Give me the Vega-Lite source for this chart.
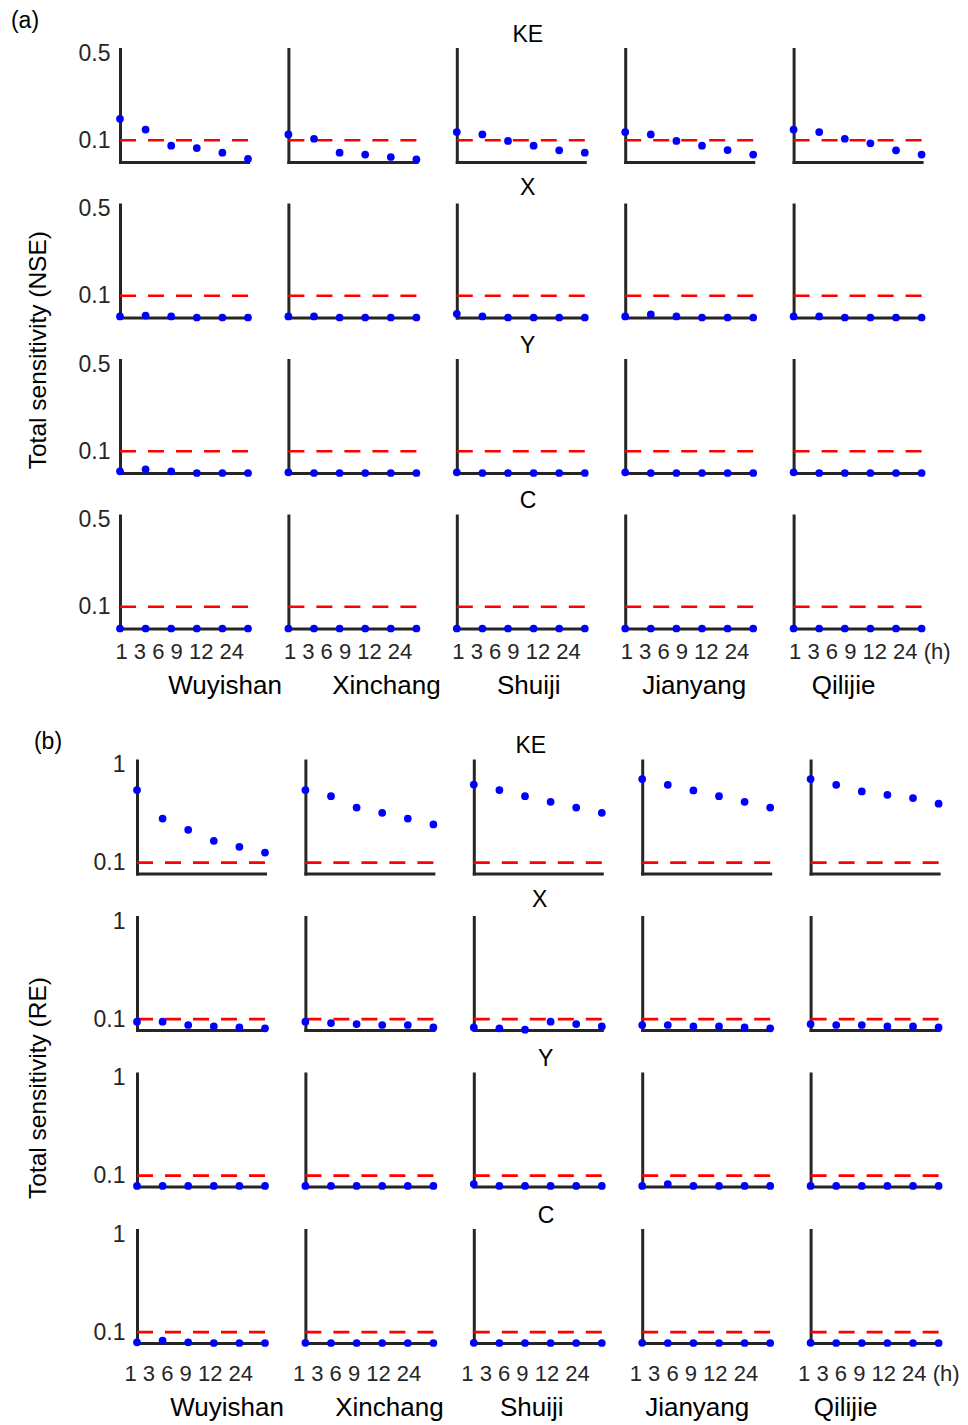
{
"$schema":"https://vega.github.io/schema/vega-lite/v6.json",
"padding":{"left":10,"top":9,"right":5,"bottom":5},
"background":"white",
"config":{
"view":{"stroke":null},
"font":"Liberation Sans",
"axis":{"domainColor":"#262626","domainWidth":3,"domainCap":"square","ticks":false,"tickSize":0,"grid":false,"labelFont":"Liberation Sans","labelFontSize":23,"labelColor":"#262626","titleFont":"Liberation Sans","titleFontSize":22,"titleColor":"#262626","titleFontWeight":"normal"},
"axisX":{"labels":false},
"title":{"font":"Liberation Sans","fontSize":23,"fontWeight":"normal","color":"#000000"}
},
"title":{"text":"(a)","anchor":"start","dx":-15,"offset":-9},
"data":{"values":[
{"p":"NSE","v":"KE","s":"Wuyishan","h":"1","val":0.199},{"p":"NSE","v":"KE","s":"Wuyishan","h":"3","val":0.149},{"p":"NSE","v":"KE","s":"Wuyishan","h":"6","val":0.075},{"p":"NSE","v":"KE","s":"Wuyishan","h":"9","val":0.064},{"p":"NSE","v":"KE","s":"Wuyishan","h":"12","val":0.043},{"p":"NSE","v":"KE","s":"Wuyishan","h":"24","val":0.014},
{"p":"NSE","v":"KE","s":"Xinchang","h":"1","val":0.127},{"p":"NSE","v":"KE","s":"Xinchang","h":"3","val":0.107},{"p":"NSE","v":"KE","s":"Xinchang","h":"6","val":0.043},{"p":"NSE","v":"KE","s":"Xinchang","h":"9","val":0.034},{"p":"NSE","v":"KE","s":"Xinchang","h":"12","val":0.023},{"p":"NSE","v":"KE","s":"Xinchang","h":"24","val":0.012},
{"p":"NSE","v":"KE","s":"Shuiji","h":"1","val":0.138},{"p":"NSE","v":"KE","s":"Shuiji","h":"3","val":0.127},{"p":"NSE","v":"KE","s":"Shuiji","h":"6","val":0.097},{"p":"NSE","v":"KE","s":"Shuiji","h":"9","val":0.075},{"p":"NSE","v":"KE","s":"Shuiji","h":"12","val":0.054},{"p":"NSE","v":"KE","s":"Shuiji","h":"24","val":0.043},
{"p":"NSE","v":"KE","s":"Jianyang","h":"1","val":0.138},{"p":"NSE","v":"KE","s":"Jianyang","h":"3","val":0.127},{"p":"NSE","v":"KE","s":"Jianyang","h":"6","val":0.097},{"p":"NSE","v":"KE","s":"Jianyang","h":"9","val":0.075},{"p":"NSE","v":"KE","s":"Jianyang","h":"12","val":0.055},{"p":"NSE","v":"KE","s":"Jianyang","h":"24","val":0.034},
{"p":"NSE","v":"KE","s":"Qilijie","h":"1","val":0.149},{"p":"NSE","v":"KE","s":"Qilijie","h":"3","val":0.138},{"p":"NSE","v":"KE","s":"Qilijie","h":"6","val":0.107},{"p":"NSE","v":"KE","s":"Qilijie","h":"9","val":0.086},{"p":"NSE","v":"KE","s":"Qilijie","h":"12","val":0.054},{"p":"NSE","v":"KE","s":"Qilijie","h":"24","val":0.034},
{"p":"NSE","v":"X","s":"Wuyishan","h":"1","val":0.005},{"p":"NSE","v":"X","s":"Wuyishan","h":"3","val":0.009},{"p":"NSE","v":"X","s":"Wuyishan","h":"6","val":0.005},{"p":"NSE","v":"X","s":"Wuyishan","h":"9","val":0},{"p":"NSE","v":"X","s":"Wuyishan","h":"12","val":0},{"p":"NSE","v":"X","s":"Wuyishan","h":"24","val":0},
{"p":"NSE","v":"X","s":"Xinchang","h":"1","val":0.005},{"p":"NSE","v":"X","s":"Xinchang","h":"3","val":0.005},{"p":"NSE","v":"X","s":"Xinchang","h":"6","val":0},{"p":"NSE","v":"X","s":"Xinchang","h":"9","val":0},{"p":"NSE","v":"X","s":"Xinchang","h":"12","val":0},{"p":"NSE","v":"X","s":"Xinchang","h":"24","val":0},
{"p":"NSE","v":"X","s":"Shuiji","h":"1","val":0.017},{"p":"NSE","v":"X","s":"Shuiji","h":"3","val":0.005},{"p":"NSE","v":"X","s":"Shuiji","h":"6","val":0},{"p":"NSE","v":"X","s":"Shuiji","h":"9","val":0},{"p":"NSE","v":"X","s":"Shuiji","h":"12","val":0},{"p":"NSE","v":"X","s":"Shuiji","h":"24","val":0},
{"p":"NSE","v":"X","s":"Jianyang","h":"1","val":0.005},{"p":"NSE","v":"X","s":"Jianyang","h":"3","val":0.014},{"p":"NSE","v":"X","s":"Jianyang","h":"6","val":0.005},{"p":"NSE","v":"X","s":"Jianyang","h":"9","val":0},{"p":"NSE","v":"X","s":"Jianyang","h":"12","val":0},{"p":"NSE","v":"X","s":"Jianyang","h":"24","val":0},
{"p":"NSE","v":"X","s":"Qilijie","h":"1","val":0.005},{"p":"NSE","v":"X","s":"Qilijie","h":"3","val":0.005},{"p":"NSE","v":"X","s":"Qilijie","h":"6","val":0},{"p":"NSE","v":"X","s":"Qilijie","h":"9","val":0},{"p":"NSE","v":"X","s":"Qilijie","h":"12","val":0},{"p":"NSE","v":"X","s":"Qilijie","h":"24","val":0},
{"p":"NSE","v":"Y","s":"Wuyishan","h":"1","val":0.008},{"p":"NSE","v":"Y","s":"Wuyishan","h":"3","val":0.017},{"p":"NSE","v":"Y","s":"Wuyishan","h":"6","val":0.008},{"p":"NSE","v":"Y","s":"Wuyishan","h":"9","val":0},{"p":"NSE","v":"Y","s":"Wuyishan","h":"12","val":0},{"p":"NSE","v":"Y","s":"Wuyishan","h":"24","val":0},
{"p":"NSE","v":"Y","s":"Xinchang","h":"1","val":0.003},{"p":"NSE","v":"Y","s":"Xinchang","h":"3","val":0},{"p":"NSE","v":"Y","s":"Xinchang","h":"6","val":0},{"p":"NSE","v":"Y","s":"Xinchang","h":"9","val":0},{"p":"NSE","v":"Y","s":"Xinchang","h":"12","val":0},{"p":"NSE","v":"Y","s":"Xinchang","h":"24","val":0},
{"p":"NSE","v":"Y","s":"Shuiji","h":"1","val":0.003},{"p":"NSE","v":"Y","s":"Shuiji","h":"3","val":0},{"p":"NSE","v":"Y","s":"Shuiji","h":"6","val":0},{"p":"NSE","v":"Y","s":"Shuiji","h":"9","val":0},{"p":"NSE","v":"Y","s":"Shuiji","h":"12","val":0},{"p":"NSE","v":"Y","s":"Shuiji","h":"24","val":0},
{"p":"NSE","v":"Y","s":"Jianyang","h":"1","val":0.003},{"p":"NSE","v":"Y","s":"Jianyang","h":"3","val":0},{"p":"NSE","v":"Y","s":"Jianyang","h":"6","val":0},{"p":"NSE","v":"Y","s":"Jianyang","h":"9","val":0},{"p":"NSE","v":"Y","s":"Jianyang","h":"12","val":0},{"p":"NSE","v":"Y","s":"Jianyang","h":"24","val":0},
{"p":"NSE","v":"Y","s":"Qilijie","h":"1","val":0.003},{"p":"NSE","v":"Y","s":"Qilijie","h":"3","val":0},{"p":"NSE","v":"Y","s":"Qilijie","h":"6","val":0},{"p":"NSE","v":"Y","s":"Qilijie","h":"9","val":0},{"p":"NSE","v":"Y","s":"Qilijie","h":"12","val":0},{"p":"NSE","v":"Y","s":"Qilijie","h":"24","val":0},
{"p":"NSE","v":"C","s":"Wuyishan","h":"1","val":0},{"p":"NSE","v":"C","s":"Wuyishan","h":"3","val":0},{"p":"NSE","v":"C","s":"Wuyishan","h":"6","val":0},{"p":"NSE","v":"C","s":"Wuyishan","h":"9","val":0},{"p":"NSE","v":"C","s":"Wuyishan","h":"12","val":0},{"p":"NSE","v":"C","s":"Wuyishan","h":"24","val":0},
{"p":"NSE","v":"C","s":"Xinchang","h":"1","val":0},{"p":"NSE","v":"C","s":"Xinchang","h":"3","val":0},{"p":"NSE","v":"C","s":"Xinchang","h":"6","val":0},{"p":"NSE","v":"C","s":"Xinchang","h":"9","val":0},{"p":"NSE","v":"C","s":"Xinchang","h":"12","val":0},{"p":"NSE","v":"C","s":"Xinchang","h":"24","val":0},
{"p":"NSE","v":"C","s":"Shuiji","h":"1","val":0},{"p":"NSE","v":"C","s":"Shuiji","h":"3","val":0},{"p":"NSE","v":"C","s":"Shuiji","h":"6","val":0},{"p":"NSE","v":"C","s":"Shuiji","h":"9","val":0},{"p":"NSE","v":"C","s":"Shuiji","h":"12","val":0},{"p":"NSE","v":"C","s":"Shuiji","h":"24","val":0},
{"p":"NSE","v":"C","s":"Jianyang","h":"1","val":0},{"p":"NSE","v":"C","s":"Jianyang","h":"3","val":0},{"p":"NSE","v":"C","s":"Jianyang","h":"6","val":0},{"p":"NSE","v":"C","s":"Jianyang","h":"9","val":0},{"p":"NSE","v":"C","s":"Jianyang","h":"12","val":0},{"p":"NSE","v":"C","s":"Jianyang","h":"24","val":0},
{"p":"NSE","v":"C","s":"Qilijie","h":"1","val":0},{"p":"NSE","v":"C","s":"Qilijie","h":"3","val":0},{"p":"NSE","v":"C","s":"Qilijie","h":"6","val":0},{"p":"NSE","v":"C","s":"Qilijie","h":"9","val":0},{"p":"NSE","v":"C","s":"Qilijie","h":"12","val":0},{"p":"NSE","v":"C","s":"Qilijie","h":"24","val":0},
{"p":"RE","v":"KE","s":"Wuyishan","h":"1","val":0.768},{"p":"RE","v":"KE","s":"Wuyishan","h":"3","val":0.506},{"p":"RE","v":"KE","s":"Wuyishan","h":"6","val":0.402},{"p":"RE","v":"KE","s":"Wuyishan","h":"9","val":0.301},{"p":"RE","v":"KE","s":"Wuyishan","h":"12","val":0.246},{"p":"RE","v":"KE","s":"Wuyishan","h":"24","val":0.193},
{"p":"RE","v":"KE","s":"Xinchang","h":"1","val":0.768},{"p":"RE","v":"KE","s":"Xinchang","h":"3","val":0.712},{"p":"RE","v":"KE","s":"Xinchang","h":"6","val":0.607},{"p":"RE","v":"KE","s":"Xinchang","h":"9","val":0.559},{"p":"RE","v":"KE","s":"Xinchang","h":"12","val":0.506},{"p":"RE","v":"KE","s":"Xinchang","h":"24","val":0.451},
{"p":"RE","v":"KE","s":"Shuiji","h":"1","val":0.819},{"p":"RE","v":"KE","s":"Shuiji","h":"3","val":0.768},{"p":"RE","v":"KE","s":"Shuiji","h":"6","val":0.712},{"p":"RE","v":"KE","s":"Shuiji","h":"9","val":0.66},{"p":"RE","v":"KE","s":"Shuiji","h":"12","val":0.607},{"p":"RE","v":"KE","s":"Shuiji","h":"24","val":0.559},
{"p":"RE","v":"KE","s":"Jianyang","h":"1","val":0.869},{"p":"RE","v":"KE","s":"Jianyang","h":"3","val":0.816},{"p":"RE","v":"KE","s":"Jianyang","h":"6","val":0.764},{"p":"RE","v":"KE","s":"Jianyang","h":"9","val":0.712},{"p":"RE","v":"KE","s":"Jianyang","h":"12","val":0.66},{"p":"RE","v":"KE","s":"Jianyang","h":"24","val":0.607},
{"p":"RE","v":"KE","s":"Qilijie","h":"1","val":0.869},{"p":"RE","v":"KE","s":"Qilijie","h":"3","val":0.816},{"p":"RE","v":"KE","s":"Qilijie","h":"6","val":0.755},{"p":"RE","v":"KE","s":"Qilijie","h":"9","val":0.724},{"p":"RE","v":"KE","s":"Qilijie","h":"12","val":0.694},{"p":"RE","v":"KE","s":"Qilijie","h":"24","val":0.642},
{"p":"RE","v":"X","s":"Wuyishan","h":"1","val":0.076},{"p":"RE","v":"X","s":"Wuyishan","h":"3","val":0.076},{"p":"RE","v":"X","s":"Wuyishan","h":"6","val":0.046},{"p":"RE","v":"X","s":"Wuyishan","h":"9","val":0.033},{"p":"RE","v":"X","s":"Wuyishan","h":"12","val":0.024},{"p":"RE","v":"X","s":"Wuyishan","h":"24","val":0.015},
{"p":"RE","v":"X","s":"Xinchang","h":"1","val":0.076},{"p":"RE","v":"X","s":"Xinchang","h":"3","val":0.064},{"p":"RE","v":"X","s":"Xinchang","h":"6","val":0.055},{"p":"RE","v":"X","s":"Xinchang","h":"9","val":0.046},{"p":"RE","v":"X","s":"Xinchang","h":"12","val":0.046},{"p":"RE","v":"X","s":"Xinchang","h":"24","val":0.024},
{"p":"RE","v":"X","s":"Shuiji","h":"1","val":0.024},{"p":"RE","v":"X","s":"Shuiji","h":"3","val":0.015},{"p":"RE","v":"X","s":"Shuiji","h":"6","val":0.003},{"p":"RE","v":"X","s":"Shuiji","h":"9","val":0.076},{"p":"RE","v":"X","s":"Shuiji","h":"12","val":0.055},{"p":"RE","v":"X","s":"Shuiji","h":"24","val":0.033},
{"p":"RE","v":"X","s":"Jianyang","h":"1","val":0.046},{"p":"RE","v":"X","s":"Jianyang","h":"3","val":0.046},{"p":"RE","v":"X","s":"Jianyang","h":"6","val":0.033},{"p":"RE","v":"X","s":"Jianyang","h":"9","val":0.033},{"p":"RE","v":"X","s":"Jianyang","h":"12","val":0.024},{"p":"RE","v":"X","s":"Jianyang","h":"24","val":0.015},
{"p":"RE","v":"X","s":"Qilijie","h":"1","val":0.055},{"p":"RE","v":"X","s":"Qilijie","h":"3","val":0.046},{"p":"RE","v":"X","s":"Qilijie","h":"6","val":0.046},{"p":"RE","v":"X","s":"Qilijie","h":"9","val":0.033},{"p":"RE","v":"X","s":"Qilijie","h":"12","val":0.033},{"p":"RE","v":"X","s":"Qilijie","h":"24","val":0.024},
{"p":"RE","v":"Y","s":"Wuyishan","h":"1","val":0.005},{"p":"RE","v":"Y","s":"Wuyishan","h":"3","val":0.005},{"p":"RE","v":"Y","s":"Wuyishan","h":"6","val":0.005},{"p":"RE","v":"Y","s":"Wuyishan","h":"9","val":0.005},{"p":"RE","v":"Y","s":"Wuyishan","h":"12","val":0.005},{"p":"RE","v":"Y","s":"Wuyishan","h":"24","val":0.005},
{"p":"RE","v":"Y","s":"Xinchang","h":"1","val":0.005},{"p":"RE","v":"Y","s":"Xinchang","h":"3","val":0.005},{"p":"RE","v":"Y","s":"Xinchang","h":"6","val":0.005},{"p":"RE","v":"Y","s":"Xinchang","h":"9","val":0.005},{"p":"RE","v":"Y","s":"Xinchang","h":"12","val":0.005},{"p":"RE","v":"Y","s":"Xinchang","h":"24","val":0.005},
{"p":"RE","v":"Y","s":"Shuiji","h":"1","val":0.023},{"p":"RE","v":"Y","s":"Shuiji","h":"3","val":0.005},{"p":"RE","v":"Y","s":"Shuiji","h":"6","val":0.005},{"p":"RE","v":"Y","s":"Shuiji","h":"9","val":0.005},{"p":"RE","v":"Y","s":"Shuiji","h":"12","val":0.005},{"p":"RE","v":"Y","s":"Shuiji","h":"24","val":0.005},
{"p":"RE","v":"Y","s":"Jianyang","h":"1","val":0.005},{"p":"RE","v":"Y","s":"Jianyang","h":"3","val":0.023},{"p":"RE","v":"Y","s":"Jianyang","h":"6","val":0.005},{"p":"RE","v":"Y","s":"Jianyang","h":"9","val":0.005},{"p":"RE","v":"Y","s":"Jianyang","h":"12","val":0.005},{"p":"RE","v":"Y","s":"Jianyang","h":"24","val":0.005},
{"p":"RE","v":"Y","s":"Qilijie","h":"1","val":0.005},{"p":"RE","v":"Y","s":"Qilijie","h":"3","val":0.005},{"p":"RE","v":"Y","s":"Qilijie","h":"6","val":0.005},{"p":"RE","v":"Y","s":"Qilijie","h":"9","val":0.005},{"p":"RE","v":"Y","s":"Qilijie","h":"12","val":0.005},{"p":"RE","v":"Y","s":"Qilijie","h":"24","val":0.005},
{"p":"RE","v":"C","s":"Wuyishan","h":"1","val":0.006},{"p":"RE","v":"C","s":"Wuyishan","h":"3","val":0.022},{"p":"RE","v":"C","s":"Wuyishan","h":"6","val":0.006},{"p":"RE","v":"C","s":"Wuyishan","h":"9","val":0},{"p":"RE","v":"C","s":"Wuyishan","h":"12","val":0},{"p":"RE","v":"C","s":"Wuyishan","h":"24","val":0},
{"p":"RE","v":"C","s":"Xinchang","h":"1","val":0.002},{"p":"RE","v":"C","s":"Xinchang","h":"3","val":0},{"p":"RE","v":"C","s":"Xinchang","h":"6","val":0},{"p":"RE","v":"C","s":"Xinchang","h":"9","val":0},{"p":"RE","v":"C","s":"Xinchang","h":"12","val":0},{"p":"RE","v":"C","s":"Xinchang","h":"24","val":0},
{"p":"RE","v":"C","s":"Shuiji","h":"1","val":0.002},{"p":"RE","v":"C","s":"Shuiji","h":"3","val":0},{"p":"RE","v":"C","s":"Shuiji","h":"6","val":0},{"p":"RE","v":"C","s":"Shuiji","h":"9","val":0},{"p":"RE","v":"C","s":"Shuiji","h":"12","val":0},{"p":"RE","v":"C","s":"Shuiji","h":"24","val":0},
{"p":"RE","v":"C","s":"Jianyang","h":"1","val":0.002},{"p":"RE","v":"C","s":"Jianyang","h":"3","val":0},{"p":"RE","v":"C","s":"Jianyang","h":"6","val":0},{"p":"RE","v":"C","s":"Jianyang","h":"9","val":0},{"p":"RE","v":"C","s":"Jianyang","h":"12","val":0},{"p":"RE","v":"C","s":"Jianyang","h":"24","val":0},
{"p":"RE","v":"C","s":"Qilijie","h":"1","val":0.002},{"p":"RE","v":"C","s":"Qilijie","h":"3","val":0},{"p":"RE","v":"C","s":"Qilijie","h":"6","val":0},{"p":"RE","v":"C","s":"Qilijie","h":"9","val":0},{"p":"RE","v":"C","s":"Qilijie","h":"12","val":0},{"p":"RE","v":"C","s":"Qilijie","h":"24","val":0}
]},
"spacing":31.5,
"vconcat":[
{"title":{"text":"Total sensitivity (NSE)","orient":"left","anchor":"middle","offset":26.6,"dx":11,"fontSize":24.5},"spacing":12.5,
"vconcat":[
{"title":{"text":"KE","anchor":"middle","offset":-4.5,"dx":26},"bounds":"flush","spacing":40.4,"hconcat":[
{"width":128,"height":113,"transform":[{"filter":"datum.p=='NSE'&&datum.v=='KE'&&datum.s=='Wuyishan'"}],"layer":[{"transform":[{"filter":"datum.h=='1'"}],"mark":{"type":"rule","color":"#ff0000","strokeWidth":2.7,"strokeDash":[16,12]},"encoding":{"y":{"datum":0.1,"type":"quantitative"}}},{"mark":{"type":"circle","color":"#0000ff","size":60,"opacity":1},"encoding":{"x":{"field":"h","type":"ordinal","scale":{"type":"point","padding":0,"domain":["1","3","6","9","12","24"]},"axis":{"title":null}},"y":{"field":"val","type":"quantitative","scale":{"domain":[0,0.52],"nice":false,"zero":false},"axis":{"title":null,"values":[0.1,0.5],"format":"~g","labelPadding":10}}}}]},
{"width":128,"height":113,"transform":[{"filter":"datum.p=='NSE'&&datum.v=='KE'&&datum.s=='Xinchang'"}],"layer":[{"transform":[{"filter":"datum.h=='1'"}],"mark":{"type":"rule","color":"#ff0000","strokeWidth":2.7,"strokeDash":[16,12]},"encoding":{"y":{"datum":0.1,"type":"quantitative"}}},{"mark":{"type":"circle","color":"#0000ff","size":60,"opacity":1},"encoding":{"x":{"field":"h","type":"ordinal","scale":{"type":"point","padding":0,"domain":["1","3","6","9","12","24"]},"axis":{"title":null}},"y":{"field":"val","type":"quantitative","scale":{"domain":[0,0.52],"nice":false,"zero":false},"axis":{"title":null,"labels":false}}}}]},
{"width":128,"height":113,"transform":[{"filter":"datum.p=='NSE'&&datum.v=='KE'&&datum.s=='Shuiji'"}],"layer":[{"transform":[{"filter":"datum.h=='1'"}],"mark":{"type":"rule","color":"#ff0000","strokeWidth":2.7,"strokeDash":[16,12]},"encoding":{"y":{"datum":0.1,"type":"quantitative"}}},{"mark":{"type":"circle","color":"#0000ff","size":60,"opacity":1},"encoding":{"x":{"field":"h","type":"ordinal","scale":{"type":"point","padding":0,"domain":["1","3","6","9","12","24"]},"axis":{"title":null}},"y":{"field":"val","type":"quantitative","scale":{"domain":[0,0.52],"nice":false,"zero":false},"axis":{"title":null,"labels":false}}}}]},
{"width":128,"height":113,"transform":[{"filter":"datum.p=='NSE'&&datum.v=='KE'&&datum.s=='Jianyang'"}],"layer":[{"transform":[{"filter":"datum.h=='1'"}],"mark":{"type":"rule","color":"#ff0000","strokeWidth":2.7,"strokeDash":[16,12]},"encoding":{"y":{"datum":0.1,"type":"quantitative"}}},{"mark":{"type":"circle","color":"#0000ff","size":60,"opacity":1},"encoding":{"x":{"field":"h","type":"ordinal","scale":{"type":"point","padding":0,"domain":["1","3","6","9","12","24"]},"axis":{"title":null}},"y":{"field":"val","type":"quantitative","scale":{"domain":[0,0.52],"nice":false,"zero":false},"axis":{"title":null,"labels":false}}}}]},
{"width":128,"height":113,"transform":[{"filter":"datum.p=='NSE'&&datum.v=='KE'&&datum.s=='Qilijie'"}],"layer":[{"transform":[{"filter":"datum.h=='1'"}],"mark":{"type":"rule","color":"#ff0000","strokeWidth":2.7,"strokeDash":[16,12]},"encoding":{"y":{"datum":0.1,"type":"quantitative"}}},{"mark":{"type":"circle","color":"#0000ff","size":60,"opacity":1},"encoding":{"x":{"field":"h","type":"ordinal","scale":{"type":"point","padding":0,"domain":["1","3","6","9","12","24"]},"axis":{"title":null}},"y":{"field":"val","type":"quantitative","scale":{"domain":[0,0.52],"nice":false,"zero":false},"axis":{"title":null,"labels":false}}}}]}
]},
{"title":{"text":"X","anchor":"middle","offset":-2.6,"dx":26},"bounds":"flush","spacing":40.4,"hconcat":[
{"width":128,"height":113,"transform":[{"filter":"datum.p=='NSE'&&datum.v=='X'&&datum.s=='Wuyishan'"}],"layer":[{"transform":[{"filter":"datum.h=='1'"}],"mark":{"type":"rule","color":"#ff0000","strokeWidth":2.7,"strokeDash":[16,12]},"encoding":{"y":{"datum":0.1,"type":"quantitative"}}},{"mark":{"type":"circle","color":"#0000ff","size":60,"opacity":1},"encoding":{"x":{"field":"h","type":"ordinal","scale":{"type":"point","padding":0,"domain":["1","3","6","9","12","24"]},"axis":{"title":null}},"y":{"field":"val","type":"quantitative","scale":{"domain":[0,0.52],"nice":false,"zero":false},"axis":{"title":null,"values":[0.1,0.5],"format":"~g","labelPadding":10}}}}]},
{"width":128,"height":113,"transform":[{"filter":"datum.p=='NSE'&&datum.v=='X'&&datum.s=='Xinchang'"}],"layer":[{"transform":[{"filter":"datum.h=='1'"}],"mark":{"type":"rule","color":"#ff0000","strokeWidth":2.7,"strokeDash":[16,12]},"encoding":{"y":{"datum":0.1,"type":"quantitative"}}},{"mark":{"type":"circle","color":"#0000ff","size":60,"opacity":1},"encoding":{"x":{"field":"h","type":"ordinal","scale":{"type":"point","padding":0,"domain":["1","3","6","9","12","24"]},"axis":{"title":null}},"y":{"field":"val","type":"quantitative","scale":{"domain":[0,0.52],"nice":false,"zero":false},"axis":{"title":null,"labels":false}}}}]},
{"width":128,"height":113,"transform":[{"filter":"datum.p=='NSE'&&datum.v=='X'&&datum.s=='Shuiji'"}],"layer":[{"transform":[{"filter":"datum.h=='1'"}],"mark":{"type":"rule","color":"#ff0000","strokeWidth":2.7,"strokeDash":[16,12]},"encoding":{"y":{"datum":0.1,"type":"quantitative"}}},{"mark":{"type":"circle","color":"#0000ff","size":60,"opacity":1},"encoding":{"x":{"field":"h","type":"ordinal","scale":{"type":"point","padding":0,"domain":["1","3","6","9","12","24"]},"axis":{"title":null}},"y":{"field":"val","type":"quantitative","scale":{"domain":[0,0.52],"nice":false,"zero":false},"axis":{"title":null,"labels":false}}}}]},
{"width":128,"height":113,"transform":[{"filter":"datum.p=='NSE'&&datum.v=='X'&&datum.s=='Jianyang'"}],"layer":[{"transform":[{"filter":"datum.h=='1'"}],"mark":{"type":"rule","color":"#ff0000","strokeWidth":2.7,"strokeDash":[16,12]},"encoding":{"y":{"datum":0.1,"type":"quantitative"}}},{"mark":{"type":"circle","color":"#0000ff","size":60,"opacity":1},"encoding":{"x":{"field":"h","type":"ordinal","scale":{"type":"point","padding":0,"domain":["1","3","6","9","12","24"]},"axis":{"title":null}},"y":{"field":"val","type":"quantitative","scale":{"domain":[0,0.52],"nice":false,"zero":false},"axis":{"title":null,"labels":false}}}}]},
{"width":128,"height":113,"transform":[{"filter":"datum.p=='NSE'&&datum.v=='X'&&datum.s=='Qilijie'"}],"layer":[{"transform":[{"filter":"datum.h=='1'"}],"mark":{"type":"rule","color":"#ff0000","strokeWidth":2.7,"strokeDash":[16,12]},"encoding":{"y":{"datum":0.1,"type":"quantitative"}}},{"mark":{"type":"circle","color":"#0000ff","size":60,"opacity":1},"encoding":{"x":{"field":"h","type":"ordinal","scale":{"type":"point","padding":0,"domain":["1","3","6","9","12","24"]},"axis":{"title":null}},"y":{"field":"val","type":"quantitative","scale":{"domain":[0,0.52],"nice":false,"zero":false},"axis":{"title":null,"labels":false}}}}]}
]},
{"title":{"text":"Y","anchor":"middle","offset":-4.5,"dx":26},"bounds":"flush","spacing":40.4,"hconcat":[
{"width":128,"height":113,"transform":[{"filter":"datum.p=='NSE'&&datum.v=='Y'&&datum.s=='Wuyishan'"}],"layer":[{"transform":[{"filter":"datum.h=='1'"}],"mark":{"type":"rule","color":"#ff0000","strokeWidth":2.7,"strokeDash":[16,12]},"encoding":{"y":{"datum":0.1,"type":"quantitative"}}},{"mark":{"type":"circle","color":"#0000ff","size":60,"opacity":1},"encoding":{"x":{"field":"h","type":"ordinal","scale":{"type":"point","padding":0,"domain":["1","3","6","9","12","24"]},"axis":{"title":null}},"y":{"field":"val","type":"quantitative","scale":{"domain":[0,0.52],"nice":false,"zero":false},"axis":{"title":null,"values":[0.1,0.5],"format":"~g","labelPadding":10}}}}]},
{"width":128,"height":113,"transform":[{"filter":"datum.p=='NSE'&&datum.v=='Y'&&datum.s=='Xinchang'"}],"layer":[{"transform":[{"filter":"datum.h=='1'"}],"mark":{"type":"rule","color":"#ff0000","strokeWidth":2.7,"strokeDash":[16,12]},"encoding":{"y":{"datum":0.1,"type":"quantitative"}}},{"mark":{"type":"circle","color":"#0000ff","size":60,"opacity":1},"encoding":{"x":{"field":"h","type":"ordinal","scale":{"type":"point","padding":0,"domain":["1","3","6","9","12","24"]},"axis":{"title":null}},"y":{"field":"val","type":"quantitative","scale":{"domain":[0,0.52],"nice":false,"zero":false},"axis":{"title":null,"labels":false}}}}]},
{"width":128,"height":113,"transform":[{"filter":"datum.p=='NSE'&&datum.v=='Y'&&datum.s=='Shuiji'"}],"layer":[{"transform":[{"filter":"datum.h=='1'"}],"mark":{"type":"rule","color":"#ff0000","strokeWidth":2.7,"strokeDash":[16,12]},"encoding":{"y":{"datum":0.1,"type":"quantitative"}}},{"mark":{"type":"circle","color":"#0000ff","size":60,"opacity":1},"encoding":{"x":{"field":"h","type":"ordinal","scale":{"type":"point","padding":0,"domain":["1","3","6","9","12","24"]},"axis":{"title":null}},"y":{"field":"val","type":"quantitative","scale":{"domain":[0,0.52],"nice":false,"zero":false},"axis":{"title":null,"labels":false}}}}]},
{"width":128,"height":113,"transform":[{"filter":"datum.p=='NSE'&&datum.v=='Y'&&datum.s=='Jianyang'"}],"layer":[{"transform":[{"filter":"datum.h=='1'"}],"mark":{"type":"rule","color":"#ff0000","strokeWidth":2.7,"strokeDash":[16,12]},"encoding":{"y":{"datum":0.1,"type":"quantitative"}}},{"mark":{"type":"circle","color":"#0000ff","size":60,"opacity":1},"encoding":{"x":{"field":"h","type":"ordinal","scale":{"type":"point","padding":0,"domain":["1","3","6","9","12","24"]},"axis":{"title":null}},"y":{"field":"val","type":"quantitative","scale":{"domain":[0,0.52],"nice":false,"zero":false},"axis":{"title":null,"labels":false}}}}]},
{"width":128,"height":113,"transform":[{"filter":"datum.p=='NSE'&&datum.v=='Y'&&datum.s=='Qilijie'"}],"layer":[{"transform":[{"filter":"datum.h=='1'"}],"mark":{"type":"rule","color":"#ff0000","strokeWidth":2.7,"strokeDash":[16,12]},"encoding":{"y":{"datum":0.1,"type":"quantitative"}}},{"mark":{"type":"circle","color":"#0000ff","size":60,"opacity":1},"encoding":{"x":{"field":"h","type":"ordinal","scale":{"type":"point","padding":0,"domain":["1","3","6","9","12","24"]},"axis":{"title":null}},"y":{"field":"val","type":"quantitative","scale":{"domain":[0,0.52],"nice":false,"zero":false},"axis":{"title":null,"labels":false}}}}]}
]},
{"title":{"text":"C","anchor":"middle","offset":-4.5,"dx":14},"bounds":"flush","spacing":40.4,"hconcat":[
{"width":128,"height":113,"title":{"text":"Wuyishan","orient":"bottom","frame":"group","fontSize":26,"offset":10,"dx":41},"transform":[{"filter":"datum.p=='NSE'&&datum.v=='C'&&datum.s=='Wuyishan'"}],"layer":[{"transform":[{"filter":"datum.h=='1'"}],"mark":{"type":"rule","color":"#ff0000","strokeWidth":2.7,"strokeDash":[16,12]},"encoding":{"y":{"datum":0.1,"type":"quantitative"}}},{"mark":{"type":"circle","color":"#0000ff","size":60,"opacity":1},"encoding":{"x":{"field":"h","type":"ordinal","scale":{"type":"point","padding":0,"domain":["1","3","6","9","12","24"]},"axis":{"title":"1 3 6 9 12 24","titleX":-5,"titleY":13,"titleAnchor":"start","titleAlign":"left","titleBaseline":"top"}},"y":{"field":"val","type":"quantitative","scale":{"domain":[0,0.52],"nice":false,"zero":false},"axis":{"title":null,"values":[0.1,0.5],"format":"~g","labelPadding":10}}}}]},
{"width":128,"height":113,"title":{"text":"Xinchang","orient":"bottom","frame":"group","fontSize":26,"offset":10,"dx":34},"transform":[{"filter":"datum.p=='NSE'&&datum.v=='C'&&datum.s=='Xinchang'"}],"layer":[{"transform":[{"filter":"datum.h=='1'"}],"mark":{"type":"rule","color":"#ff0000","strokeWidth":2.7,"strokeDash":[16,12]},"encoding":{"y":{"datum":0.1,"type":"quantitative"}}},{"mark":{"type":"circle","color":"#0000ff","size":60,"opacity":1},"encoding":{"x":{"field":"h","type":"ordinal","scale":{"type":"point","padding":0,"domain":["1","3","6","9","12","24"]},"axis":{"title":"1 3 6 9 12 24","titleX":-5,"titleY":13,"titleAnchor":"start","titleAlign":"left","titleBaseline":"top"}},"y":{"field":"val","type":"quantitative","scale":{"domain":[0,0.52],"nice":false,"zero":false},"axis":{"title":null,"labels":false}}}}]},
{"width":128,"height":113,"title":{"text":"Shuiji","orient":"bottom","frame":"group","fontSize":26,"offset":10,"dx":8},"transform":[{"filter":"datum.p=='NSE'&&datum.v=='C'&&datum.s=='Shuiji'"}],"layer":[{"transform":[{"filter":"datum.h=='1'"}],"mark":{"type":"rule","color":"#ff0000","strokeWidth":2.7,"strokeDash":[16,12]},"encoding":{"y":{"datum":0.1,"type":"quantitative"}}},{"mark":{"type":"circle","color":"#0000ff","size":60,"opacity":1},"encoding":{"x":{"field":"h","type":"ordinal","scale":{"type":"point","padding":0,"domain":["1","3","6","9","12","24"]},"axis":{"title":"1 3 6 9 12 24","titleX":-5,"titleY":13,"titleAnchor":"start","titleAlign":"left","titleBaseline":"top"}},"y":{"field":"val","type":"quantitative","scale":{"domain":[0,0.52],"nice":false,"zero":false},"axis":{"title":null,"labels":false}}}}]},
{"width":128,"height":113,"title":{"text":"Jianyang","orient":"bottom","frame":"group","fontSize":26,"offset":10,"dx":5},"transform":[{"filter":"datum.p=='NSE'&&datum.v=='C'&&datum.s=='Jianyang'"}],"layer":[{"transform":[{"filter":"datum.h=='1'"}],"mark":{"type":"rule","color":"#ff0000","strokeWidth":2.7,"strokeDash":[16,12]},"encoding":{"y":{"datum":0.1,"type":"quantitative"}}},{"mark":{"type":"circle","color":"#0000ff","size":60,"opacity":1},"encoding":{"x":{"field":"h","type":"ordinal","scale":{"type":"point","padding":0,"domain":["1","3","6","9","12","24"]},"axis":{"title":"1 3 6 9 12 24","titleX":-5,"titleY":13,"titleAnchor":"start","titleAlign":"left","titleBaseline":"top"}},"y":{"field":"val","type":"quantitative","scale":{"domain":[0,0.52],"nice":false,"zero":false},"axis":{"title":null,"labels":false}}}}]},
{"width":128,"height":113,"title":{"text":"Qilijie","orient":"bottom","frame":"group","fontSize":26,"offset":10,"dx":-14},"transform":[{"filter":"datum.p=='NSE'&&datum.v=='C'&&datum.s=='Qilijie'"}],"layer":[{"transform":[{"filter":"datum.h=='1'"}],"mark":{"type":"rule","color":"#ff0000","strokeWidth":2.7,"strokeDash":[16,12]},"encoding":{"y":{"datum":0.1,"type":"quantitative"}}},{"mark":{"type":"circle","color":"#0000ff","size":60,"opacity":1},"encoding":{"x":{"field":"h","type":"ordinal","scale":{"type":"point","padding":0,"domain":["1","3","6","9","12","24"]},"axis":{"title":"1 3 6 9 12 24 (h)","titleX":-5,"titleY":13,"titleAnchor":"start","titleAlign":"left","titleBaseline":"top"}},"y":{"field":"val","type":"quantitative","scale":{"domain":[0,0.52],"nice":false,"zero":false},"axis":{"title":null,"labels":false}}}}]}
]}
]},
{"title":{"text":"(b)","anchor":"start","dx":8,"offset":-18.5},
"vconcat":[
{"title":{"text":"Total sensitivity (RE)","orient":"left","anchor":"middle","offset":41.6,"dx":-10,"fontSize":24.5},"spacing":13.5,
"vconcat":[
{"title":{"text":"KE","anchor":"middle","offset":-4.5,"dx":13},"bounds":"flush","spacing":23.4,"hconcat":[
{"width":145,"height":113,"transform":[{"filter":"datum.p=='RE'&&datum.v=='KE'&&datum.s=='Wuyishan'"}],"layer":[{"transform":[{"filter":"datum.h=='1'"}],"mark":{"type":"rule","color":"#ff0000","strokeWidth":2.7,"strokeDash":[16,12]},"encoding":{"x":{"datum":"1","type":"ordinal"},"x2":{"datum":"24"},"y":{"datum":0.1,"type":"quantitative"}}},{"mark":{"type":"circle","color":"#0000ff","size":60,"opacity":1},"encoding":{"x":{"field":"h","type":"ordinal","scale":{"type":"point","padding":0,"domain":["1","3","6","9","12","24"],"range":[17,145]},"axis":{"title":null}},"y":{"field":"val","type":"quantitative","scale":{"domain":[0,1.04],"nice":false,"zero":false},"axis":{"title":null,"offset":-17,"values":[0.1,1],"format":"~g","labelPadding":12}}}}]},
{"width":145,"height":113,"transform":[{"filter":"datum.p=='RE'&&datum.v=='KE'&&datum.s=='Xinchang'"}],"layer":[{"transform":[{"filter":"datum.h=='1'"}],"mark":{"type":"rule","color":"#ff0000","strokeWidth":2.7,"strokeDash":[16,12]},"encoding":{"x":{"datum":"1","type":"ordinal"},"x2":{"datum":"24"},"y":{"datum":0.1,"type":"quantitative"}}},{"mark":{"type":"circle","color":"#0000ff","size":60,"opacity":1},"encoding":{"x":{"field":"h","type":"ordinal","scale":{"type":"point","padding":0,"domain":["1","3","6","9","12","24"],"range":[17,145]},"axis":{"title":null}},"y":{"field":"val","type":"quantitative","scale":{"domain":[0,1.04],"nice":false,"zero":false},"axis":{"title":null,"offset":-17,"labels":false}}}}]},
{"width":145,"height":113,"transform":[{"filter":"datum.p=='RE'&&datum.v=='KE'&&datum.s=='Shuiji'"}],"layer":[{"transform":[{"filter":"datum.h=='1'"}],"mark":{"type":"rule","color":"#ff0000","strokeWidth":2.7,"strokeDash":[16,12]},"encoding":{"x":{"datum":"1","type":"ordinal"},"x2":{"datum":"24"},"y":{"datum":0.1,"type":"quantitative"}}},{"mark":{"type":"circle","color":"#0000ff","size":60,"opacity":1},"encoding":{"x":{"field":"h","type":"ordinal","scale":{"type":"point","padding":0,"domain":["1","3","6","9","12","24"],"range":[17,145]},"axis":{"title":null}},"y":{"field":"val","type":"quantitative","scale":{"domain":[0,1.04],"nice":false,"zero":false},"axis":{"title":null,"offset":-17,"labels":false}}}}]},
{"width":145,"height":113,"transform":[{"filter":"datum.p=='RE'&&datum.v=='KE'&&datum.s=='Jianyang'"}],"layer":[{"transform":[{"filter":"datum.h=='1'"}],"mark":{"type":"rule","color":"#ff0000","strokeWidth":2.7,"strokeDash":[16,12]},"encoding":{"x":{"datum":"1","type":"ordinal"},"x2":{"datum":"24"},"y":{"datum":0.1,"type":"quantitative"}}},{"mark":{"type":"circle","color":"#0000ff","size":60,"opacity":1},"encoding":{"x":{"field":"h","type":"ordinal","scale":{"type":"point","padding":0,"domain":["1","3","6","9","12","24"],"range":[17,145]},"axis":{"title":null}},"y":{"field":"val","type":"quantitative","scale":{"domain":[0,1.04],"nice":false,"zero":false},"axis":{"title":null,"offset":-17,"labels":false}}}}]},
{"width":145,"height":113,"transform":[{"filter":"datum.p=='RE'&&datum.v=='KE'&&datum.s=='Qilijie'"}],"layer":[{"transform":[{"filter":"datum.h=='1'"}],"mark":{"type":"rule","color":"#ff0000","strokeWidth":2.7,"strokeDash":[16,12]},"encoding":{"x":{"datum":"1","type":"ordinal"},"x2":{"datum":"24"},"y":{"datum":0.1,"type":"quantitative"}}},{"mark":{"type":"circle","color":"#0000ff","size":60,"opacity":1},"encoding":{"x":{"field":"h","type":"ordinal","scale":{"type":"point","padding":0,"domain":["1","3","6","9","12","24"],"range":[17,145]},"axis":{"title":null}},"y":{"field":"val","type":"quantitative","scale":{"domain":[0,1.04],"nice":false,"zero":false},"axis":{"title":null,"offset":-17,"labels":false}}}}]}
]},
{"title":{"text":"X","anchor":"middle","offset":-1.9,"dx":22},"bounds":"flush","spacing":23.4,"hconcat":[
{"width":145,"height":113,"transform":[{"filter":"datum.p=='RE'&&datum.v=='X'&&datum.s=='Wuyishan'"}],"layer":[{"transform":[{"filter":"datum.h=='1'"}],"mark":{"type":"rule","color":"#ff0000","strokeWidth":2.7,"strokeDash":[16,12]},"encoding":{"x":{"datum":"1","type":"ordinal"},"x2":{"datum":"24"},"y":{"datum":0.1,"type":"quantitative"}}},{"mark":{"type":"circle","color":"#0000ff","size":60,"opacity":1},"encoding":{"x":{"field":"h","type":"ordinal","scale":{"type":"point","padding":0,"domain":["1","3","6","9","12","24"],"range":[17,145]},"axis":{"title":null}},"y":{"field":"val","type":"quantitative","scale":{"domain":[0,1.04],"nice":false,"zero":false},"axis":{"title":null,"offset":-17,"values":[0.1,1],"format":"~g","labelPadding":12}}}}]},
{"width":145,"height":113,"transform":[{"filter":"datum.p=='RE'&&datum.v=='X'&&datum.s=='Xinchang'"}],"layer":[{"transform":[{"filter":"datum.h=='1'"}],"mark":{"type":"rule","color":"#ff0000","strokeWidth":2.7,"strokeDash":[16,12]},"encoding":{"x":{"datum":"1","type":"ordinal"},"x2":{"datum":"24"},"y":{"datum":0.1,"type":"quantitative"}}},{"mark":{"type":"circle","color":"#0000ff","size":60,"opacity":1},"encoding":{"x":{"field":"h","type":"ordinal","scale":{"type":"point","padding":0,"domain":["1","3","6","9","12","24"],"range":[17,145]},"axis":{"title":null}},"y":{"field":"val","type":"quantitative","scale":{"domain":[0,1.04],"nice":false,"zero":false},"axis":{"title":null,"offset":-17,"labels":false}}}}]},
{"width":145,"height":113,"transform":[{"filter":"datum.p=='RE'&&datum.v=='X'&&datum.s=='Shuiji'"}],"layer":[{"transform":[{"filter":"datum.h=='1'"}],"mark":{"type":"rule","color":"#ff0000","strokeWidth":2.7,"strokeDash":[16,12]},"encoding":{"x":{"datum":"1","type":"ordinal"},"x2":{"datum":"24"},"y":{"datum":0.1,"type":"quantitative"}}},{"mark":{"type":"circle","color":"#0000ff","size":60,"opacity":1},"encoding":{"x":{"field":"h","type":"ordinal","scale":{"type":"point","padding":0,"domain":["1","3","6","9","12","24"],"range":[17,145]},"axis":{"title":null}},"y":{"field":"val","type":"quantitative","scale":{"domain":[0,1.04],"nice":false,"zero":false},"axis":{"title":null,"offset":-17,"labels":false}}}}]},
{"width":145,"height":113,"transform":[{"filter":"datum.p=='RE'&&datum.v=='X'&&datum.s=='Jianyang'"}],"layer":[{"transform":[{"filter":"datum.h=='1'"}],"mark":{"type":"rule","color":"#ff0000","strokeWidth":2.7,"strokeDash":[16,12]},"encoding":{"x":{"datum":"1","type":"ordinal"},"x2":{"datum":"24"},"y":{"datum":0.1,"type":"quantitative"}}},{"mark":{"type":"circle","color":"#0000ff","size":60,"opacity":1},"encoding":{"x":{"field":"h","type":"ordinal","scale":{"type":"point","padding":0,"domain":["1","3","6","9","12","24"],"range":[17,145]},"axis":{"title":null}},"y":{"field":"val","type":"quantitative","scale":{"domain":[0,1.04],"nice":false,"zero":false},"axis":{"title":null,"offset":-17,"labels":false}}}}]},
{"width":145,"height":113,"transform":[{"filter":"datum.p=='RE'&&datum.v=='X'&&datum.s=='Qilijie'"}],"layer":[{"transform":[{"filter":"datum.h=='1'"}],"mark":{"type":"rule","color":"#ff0000","strokeWidth":2.7,"strokeDash":[16,12]},"encoding":{"x":{"datum":"1","type":"ordinal"},"x2":{"datum":"24"},"y":{"datum":0.1,"type":"quantitative"}}},{"mark":{"type":"circle","color":"#0000ff","size":60,"opacity":1},"encoding":{"x":{"field":"h","type":"ordinal","scale":{"type":"point","padding":0,"domain":["1","3","6","9","12","24"],"range":[17,145]},"axis":{"title":null}},"y":{"field":"val","type":"quantitative","scale":{"domain":[0,1.04],"nice":false,"zero":false},"axis":{"title":null,"offset":-17,"labels":false}}}}]}
]},
{"title":{"text":"Y","anchor":"middle","offset":-4.5,"dx":28},"bounds":"flush","spacing":23.4,"hconcat":[
{"width":145,"height":113,"transform":[{"filter":"datum.p=='RE'&&datum.v=='Y'&&datum.s=='Wuyishan'"}],"layer":[{"transform":[{"filter":"datum.h=='1'"}],"mark":{"type":"rule","color":"#ff0000","strokeWidth":2.7,"strokeDash":[16,12]},"encoding":{"x":{"datum":"1","type":"ordinal"},"x2":{"datum":"24"},"y":{"datum":0.1,"type":"quantitative"}}},{"mark":{"type":"circle","color":"#0000ff","size":60,"opacity":1},"encoding":{"x":{"field":"h","type":"ordinal","scale":{"type":"point","padding":0,"domain":["1","3","6","9","12","24"],"range":[17,145]},"axis":{"title":null}},"y":{"field":"val","type":"quantitative","scale":{"domain":[0,1.04],"nice":false,"zero":false},"axis":{"title":null,"offset":-17,"values":[0.1,1],"format":"~g","labelPadding":12}}}}]},
{"width":145,"height":113,"transform":[{"filter":"datum.p=='RE'&&datum.v=='Y'&&datum.s=='Xinchang'"}],"layer":[{"transform":[{"filter":"datum.h=='1'"}],"mark":{"type":"rule","color":"#ff0000","strokeWidth":2.7,"strokeDash":[16,12]},"encoding":{"x":{"datum":"1","type":"ordinal"},"x2":{"datum":"24"},"y":{"datum":0.1,"type":"quantitative"}}},{"mark":{"type":"circle","color":"#0000ff","size":60,"opacity":1},"encoding":{"x":{"field":"h","type":"ordinal","scale":{"type":"point","padding":0,"domain":["1","3","6","9","12","24"],"range":[17,145]},"axis":{"title":null}},"y":{"field":"val","type":"quantitative","scale":{"domain":[0,1.04],"nice":false,"zero":false},"axis":{"title":null,"offset":-17,"labels":false}}}}]},
{"width":145,"height":113,"transform":[{"filter":"datum.p=='RE'&&datum.v=='Y'&&datum.s=='Shuiji'"}],"layer":[{"transform":[{"filter":"datum.h=='1'"}],"mark":{"type":"rule","color":"#ff0000","strokeWidth":2.7,"strokeDash":[16,12]},"encoding":{"x":{"datum":"1","type":"ordinal"},"x2":{"datum":"24"},"y":{"datum":0.1,"type":"quantitative"}}},{"mark":{"type":"circle","color":"#0000ff","size":60,"opacity":1},"encoding":{"x":{"field":"h","type":"ordinal","scale":{"type":"point","padding":0,"domain":["1","3","6","9","12","24"],"range":[17,145]},"axis":{"title":null}},"y":{"field":"val","type":"quantitative","scale":{"domain":[0,1.04],"nice":false,"zero":false},"axis":{"title":null,"offset":-17,"labels":false}}}}]},
{"width":145,"height":113,"transform":[{"filter":"datum.p=='RE'&&datum.v=='Y'&&datum.s=='Jianyang'"}],"layer":[{"transform":[{"filter":"datum.h=='1'"}],"mark":{"type":"rule","color":"#ff0000","strokeWidth":2.7,"strokeDash":[16,12]},"encoding":{"x":{"datum":"1","type":"ordinal"},"x2":{"datum":"24"},"y":{"datum":0.1,"type":"quantitative"}}},{"mark":{"type":"circle","color":"#0000ff","size":60,"opacity":1},"encoding":{"x":{"field":"h","type":"ordinal","scale":{"type":"point","padding":0,"domain":["1","3","6","9","12","24"],"range":[17,145]},"axis":{"title":null}},"y":{"field":"val","type":"quantitative","scale":{"domain":[0,1.04],"nice":false,"zero":false},"axis":{"title":null,"offset":-17,"labels":false}}}}]},
{"width":145,"height":113,"transform":[{"filter":"datum.p=='RE'&&datum.v=='Y'&&datum.s=='Qilijie'"}],"layer":[{"transform":[{"filter":"datum.h=='1'"}],"mark":{"type":"rule","color":"#ff0000","strokeWidth":2.7,"strokeDash":[16,12]},"encoding":{"x":{"datum":"1","type":"ordinal"},"x2":{"datum":"24"},"y":{"datum":0.1,"type":"quantitative"}}},{"mark":{"type":"circle","color":"#0000ff","size":60,"opacity":1},"encoding":{"x":{"field":"h","type":"ordinal","scale":{"type":"point","padding":0,"domain":["1","3","6","9","12","24"],"range":[17,145]},"axis":{"title":null}},"y":{"field":"val","type":"quantitative","scale":{"domain":[0,1.04],"nice":false,"zero":false},"axis":{"title":null,"offset":-17,"labels":false}}}}]}
]},
{"title":{"text":"C","anchor":"middle","offset":-4.5,"dx":20},"bounds":"flush","spacing":23.4,"hconcat":[
{"width":145,"height":113,"title":{"text":"Wuyishan","orient":"bottom","frame":"group","fontSize":26,"offset":10,"dx":34.5},"transform":[{"filter":"datum.p=='RE'&&datum.v=='C'&&datum.s=='Wuyishan'"}],"layer":[{"transform":[{"filter":"datum.h=='1'"}],"mark":{"type":"rule","color":"#ff0000","strokeWidth":2.7,"strokeDash":[16,12]},"encoding":{"x":{"datum":"1","type":"ordinal"},"x2":{"datum":"24"},"y":{"datum":0.1,"type":"quantitative"}}},{"mark":{"type":"circle","color":"#0000ff","size":60,"opacity":1},"encoding":{"x":{"field":"h","type":"ordinal","scale":{"type":"point","padding":0,"domain":["1","3","6","9","12","24"],"range":[17,145]},"axis":{"title":"1 3 6 9 12 24","titleX":4,"titleY":20.7,"titleAnchor":"start","titleAlign":"left","titleBaseline":"top"}},"y":{"field":"val","type":"quantitative","scale":{"domain":[0,1.04],"nice":false,"zero":false},"axis":{"title":null,"offset":-17,"values":[0.1,1],"format":"~g","labelPadding":12}}}}]},
{"width":145,"height":113,"title":{"text":"Xinchang","orient":"bottom","frame":"group","fontSize":26,"offset":10,"dx":28.5},"transform":[{"filter":"datum.p=='RE'&&datum.v=='C'&&datum.s=='Xinchang'"}],"layer":[{"transform":[{"filter":"datum.h=='1'"}],"mark":{"type":"rule","color":"#ff0000","strokeWidth":2.7,"strokeDash":[16,12]},"encoding":{"x":{"datum":"1","type":"ordinal"},"x2":{"datum":"24"},"y":{"datum":0.1,"type":"quantitative"}}},{"mark":{"type":"circle","color":"#0000ff","size":60,"opacity":1},"encoding":{"x":{"field":"h","type":"ordinal","scale":{"type":"point","padding":0,"domain":["1","3","6","9","12","24"],"range":[17,145]},"axis":{"title":"1 3 6 9 12 24","titleX":4,"titleY":20.7,"titleAnchor":"start","titleAlign":"left","titleBaseline":"top"}},"y":{"field":"val","type":"quantitative","scale":{"domain":[0,1.04],"nice":false,"zero":false},"axis":{"title":null,"offset":-17,"labels":false}}}}]},
{"width":145,"height":113,"title":{"text":"Shuiji","orient":"bottom","frame":"group","fontSize":26,"offset":10,"dx":2.5},"transform":[{"filter":"datum.p=='RE'&&datum.v=='C'&&datum.s=='Shuiji'"}],"layer":[{"transform":[{"filter":"datum.h=='1'"}],"mark":{"type":"rule","color":"#ff0000","strokeWidth":2.7,"strokeDash":[16,12]},"encoding":{"x":{"datum":"1","type":"ordinal"},"x2":{"datum":"24"},"y":{"datum":0.1,"type":"quantitative"}}},{"mark":{"type":"circle","color":"#0000ff","size":60,"opacity":1},"encoding":{"x":{"field":"h","type":"ordinal","scale":{"type":"point","padding":0,"domain":["1","3","6","9","12","24"],"range":[17,145]},"axis":{"title":"1 3 6 9 12 24","titleX":4,"titleY":20.7,"titleAnchor":"start","titleAlign":"left","titleBaseline":"top"}},"y":{"field":"val","type":"quantitative","scale":{"domain":[0,1.04],"nice":false,"zero":false},"axis":{"title":null,"offset":-17,"labels":false}}}}]},
{"width":145,"height":113,"title":{"text":"Jianyang","orient":"bottom","frame":"group","fontSize":26,"offset":10,"dx":-0.5},"transform":[{"filter":"datum.p=='RE'&&datum.v=='C'&&datum.s=='Jianyang'"}],"layer":[{"transform":[{"filter":"datum.h=='1'"}],"mark":{"type":"rule","color":"#ff0000","strokeWidth":2.7,"strokeDash":[16,12]},"encoding":{"x":{"datum":"1","type":"ordinal"},"x2":{"datum":"24"},"y":{"datum":0.1,"type":"quantitative"}}},{"mark":{"type":"circle","color":"#0000ff","size":60,"opacity":1},"encoding":{"x":{"field":"h","type":"ordinal","scale":{"type":"point","padding":0,"domain":["1","3","6","9","12","24"],"range":[17,145]},"axis":{"title":"1 3 6 9 12 24","titleX":4,"titleY":20.7,"titleAnchor":"start","titleAlign":"left","titleBaseline":"top"}},"y":{"field":"val","type":"quantitative","scale":{"domain":[0,1.04],"nice":false,"zero":false},"axis":{"title":null,"offset":-17,"labels":false}}}}]},
{"width":145,"height":113,"title":{"text":"Qilijie","orient":"bottom","frame":"group","fontSize":26,"offset":10,"dx":-20.5},"transform":[{"filter":"datum.p=='RE'&&datum.v=='C'&&datum.s=='Qilijie'"}],"layer":[{"transform":[{"filter":"datum.h=='1'"}],"mark":{"type":"rule","color":"#ff0000","strokeWidth":2.7,"strokeDash":[16,12]},"encoding":{"x":{"datum":"1","type":"ordinal"},"x2":{"datum":"24"},"y":{"datum":0.1,"type":"quantitative"}}},{"mark":{"type":"circle","color":"#0000ff","size":60,"opacity":1},"encoding":{"x":{"field":"h","type":"ordinal","scale":{"type":"point","padding":0,"domain":["1","3","6","9","12","24"],"range":[17,145]},"axis":{"title":"1 3 6 9 12 24 (h)","titleX":4,"titleY":20.7,"titleAnchor":"start","titleAlign":"left","titleBaseline":"top"}},"y":{"field":"val","type":"quantitative","scale":{"domain":[0,1.04],"nice":false,"zero":false},"axis":{"title":null,"offset":-17,"labels":false}}}}]}
]}
]}
]}
]
}
